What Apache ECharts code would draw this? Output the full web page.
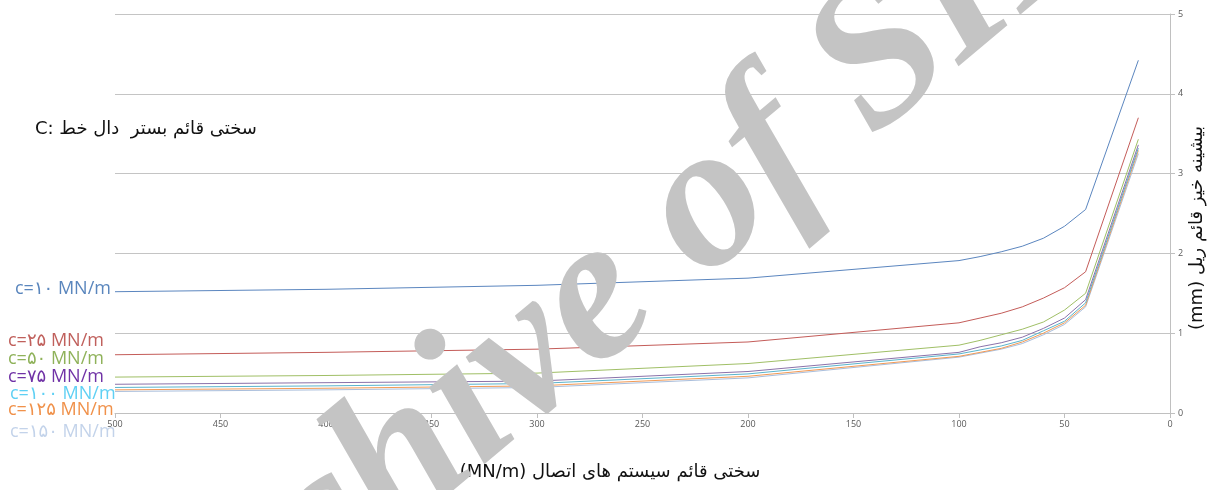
<!DOCTYPE html>
<html>
<head>
<meta charset="utf-8">
<script src="https://cdn.jsdelivr.net/npm/echarts@6/dist/echarts.min.js"></script>
<style>
  html, body { margin: 0; padding: 0; background: #ffffff; }
  #chart { width: 1217px; height: 490px; }
</style>
</head>
<body>
<div id="chart"></div>
<script>
// Fastening-system stiffness (MN/m) on the horizontal axis
const stiffness = [500, 400, 300, 200, 100, 90, 80, 70, 60, 50, 40, 15];

// Maximum vertical rail deflection (mm), one list per slab bed stiffness c
const c10  = [1.52, 1.55, 1.60, 1.69, 1.91, 1.96, 2.02, 2.09, 2.19, 2.34, 2.55, 4.42];
const c25  = [0.73, 0.76, 0.80, 0.89, 1.13, 1.19, 1.25, 1.33, 1.44, 1.57, 1.77, 3.70];
const c50  = [0.45, 0.47, 0.50, 0.62, 0.85, 0.91, 0.98, 1.05, 1.14, 1.29, 1.50, 3.43];
const c75  = [0.36, 0.38, 0.40, 0.52, 0.76, 0.83, 0.88, 0.95, 1.06, 1.19, 1.42, 3.36];
const c100 = [0.32, 0.34, 0.37, 0.49, 0.74, 0.79, 0.84, 0.91, 1.03, 1.15, 1.38, 3.32];
const c125 = [0.29, 0.31, 0.34, 0.46, 0.71, 0.76, 0.81, 0.89, 1.00, 1.13, 1.35, 3.29];
const c150 = [0.27, 0.29, 0.32, 0.44, 0.70, 0.75, 0.80, 0.87, 0.98, 1.11, 1.33, 3.25];

const seriesNames = ['c=۱۰ MN/m', 'c=۲۵ MN/m', 'c=۵۰ MN/m', 'c=۷۵ MN/m', 'c=۱۰۰ MN/m', 'c=۱۲۵ MN/m', 'c=۱۵۰ MN/m'];
const seriesValues = [c10, c25, c50, c75, c100, c125, c150];
const lineColors  = ['#5b86bf', '#c45c59', '#a0bf66', '#8b72aa', '#5ab4cc', '#f29a55', '#a9bedc'];
const labelColors = ['#5a86bd', '#c0605c', '#8fb25a', '#7032a6', '#5fd0f4', '#f0914a', '#c3d3ea'];

const titleText = 'C: سختی قائم بستر  دال خط';
const xName = '(MN/m) سختی قائم سیستم های اتصال';
const yName = '(mm) بیشینه خیز قائم ریل';
const watermark = 'Archive of SID';

const chart = echarts.init(document.getElementById('chart'), null, { renderer: 'canvas' });

const labelFont = '18px "Open Sans", "DejaVu Sans", sans-serif';
const labelY = [291, 343, 361, 379, 396, 412, 434];
const labelX = [15, 8, 8, 8, 10, 8, 10];

const graphics = seriesNames.map((name, i) => ({
  type: 'text',
  left: labelX[i],
  top: labelY[i] - 11,
  style: { text: name, font: labelFont, fill: labelColors[i] }
}));

graphics.push({
  type: 'text', left: 35, top: 120,
  style: { text: titleText, font: '18px "DejaVu Sans", sans-serif', fill: '#111111' }
});
graphics.push({
  type: 'text', x: 610, y: 472,
  style: { text: xName, font: '18px "DejaVu Sans", sans-serif', fill: '#111111', align: 'center', verticalAlign: 'middle' }
});
graphics.push({
  type: 'text', x: 1197, y: 228, rotation: Math.PI / 2,
  style: { text: yName, font: '18px "DejaVu Sans", sans-serif', fill: '#111111', align: 'center', verticalAlign: 'middle' }
});
graphics.push({
  type: 'text', x: 612, y: 288, rotation: 40 * Math.PI / 180, z: 100,
  style: {
    text: watermark,
    fontStyle: 'italic', fontWeight: 'bold', fontSize: 205,
    fontFamily: '"Liberation Serif", serif',
    fill: '#c4c4c4', align: 'center', verticalAlign: 'middle'
  }
});

chart.setOption({
  animation: false,
  backgroundColor: '#ffffff',
  grid: { left: 115, right: 47, top: 14, bottom: 77 },
  xAxis: {
    type: 'value', inverse: true, min: 0, max: 500, interval: 50,
    axisLine: { show: true, lineStyle: { color: '#c0c0c0', width: 1 } },
    axisTick: { show: true, length: 5, lineStyle: { color: '#c0c0c0' } },
    axisLabel: { color: '#595959', fontSize: 9, fontFamily: 'Open Sans, sans-serif', margin: 7 },
    splitLine: { show: false }
  },
  yAxis: {
    type: 'value', position: 'right', min: 0, max: 5, interval: 1,
    axisLine: { show: true, lineStyle: { color: '#c0c0c0', width: 1 } },
    axisTick: { show: true, length: 5, lineStyle: { color: '#c0c0c0' } },
    axisLabel: { color: '#595959', fontSize: 9, fontFamily: 'Open Sans, sans-serif', margin: 8 },
    splitLine: { show: true, lineStyle: { color: '#c4c4c4', width: 1.2 } }
  },
  series: seriesValues.map((vals, i) => ({
    name: seriesNames[i],
    type: 'line',
    data: stiffness.map((x, j) => [x, vals[j]]),
    showSymbol: false,
    symbol: 'none',
    lineStyle: { color: lineColors[i], width: 1 },
    itemStyle: { color: lineColors[i] },
    z: 2 + (seriesValues.length - i)
  })),
  graphic: graphics
});
</script>
</body>
</html>
